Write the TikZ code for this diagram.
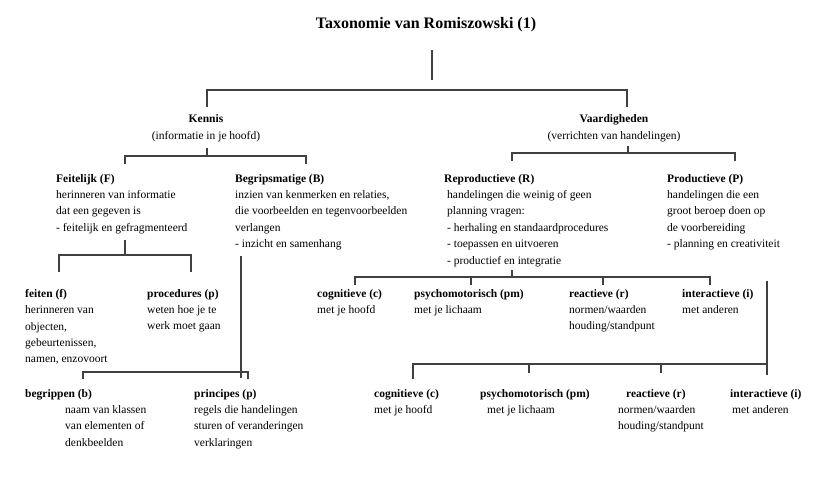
\documentclass[tikz,border=0pt]{standalone}
\usepackage{fontspec}
\setmainfont{Liberation Serif}
\tikzset{
  txt/.style={anchor=north west, align=left, inner sep=0pt, font=\fontsize{11.5}{16.4}\selectfont},
  head/.style={anchor=north, align=center, inner sep=0pt, font=\fontsize{11.5}{17}\selectfont},
  bus/.style={line width=1.1pt, black!75}
}
\begin{document}
\begin{tikzpicture}[x=1pt,y=-1pt]
\useasboundingbox (0,0) rectangle (823,484);
\node[inner sep=0pt, font=\fontsize{16}{19}\selectfont\bfseries] (title) at (426,25) {Taxonomie van Romiszowski (1)};
\node[head] (kennis) at (206,114) {\textbf{Kennis}\\(informatie in je hoofd)};
\node[head] (vaard) at (614,114) {\textbf{Vaardigheden}\\(verrichten van handelingen)};

\node[txt] (feit) at (56,174) {\textbf{Feitelijk (F)}\\herinneren van informatie\\dat een gegeven is\\- feitelijk en gefragmenteerd};
\node[txt] (begr) at (235,174) {\textbf{Begripsmatige (B)}\\inzien van kenmerken en relaties,\\die voorbeelden en tegenvoorbeelden\\verlangen\\- inzicht en samenhang};
\node[txt] (repro) at (444,174) {\textbf{Reproductieve (R)}\\\hspace*{3pt}handelingen die weinig of geen\\\hspace*{3pt}planning vragen:\\\hspace*{3pt}- herhaling en standaardprocedures\\\hspace*{3pt}- toepassen en uitvoeren\\\hspace*{3pt}- productief en integratie};
\node[txt] (prod) at (667,174) {\textbf{Productieve (P)}\\handelingen die een\\groot beroep doen op\\de voorbereiding\\- planning en creativiteit};

\node[txt] (feiten) at (25,289) {\textbf{feiten (f)}\\herinneren van\\objecten,\\gebeurtenissen,\\namen, enzovoort};
\node[txt] (proc) at (147,289) {\textbf{procedures (p)}\\weten hoe je te\\werk moet gaan};
\node[txt] (cog1) at (317,289) {\textbf{cognitieve (c)}\\met je hoofd};
\node[txt] (psy1) at (414,289) {\textbf{psychomotorisch (pm)}\\met je lichaam};
\node[txt] (rea1) at (569,289) {\textbf{reactieve (r)}\\normen/waarden\\houding/standpunt};
\node[txt] (inter1) at (682,289) {\textbf{interactieve (i)}\\met anderen};

\node[txt] (begrip) at (25,389) {\textbf{begrippen (b)}\\\hspace*{40pt}naam van klassen\\\hspace*{40pt}van elementen of\\\hspace*{40pt}denkbeelden};
\node[txt] (princ) at (194,389) {\textbf{principes (p)}\\regels die handelingen\\sturen of veranderingen\\verklaringen};
\node[txt] (cog2) at (374,389) {\textbf{cognitieve (c)}\\met je hoofd};
\node[txt] (psy2) at (480,389) {\textbf{psychomotorisch (pm)}\\\hspace*{7pt}met je lichaam};
\node[txt] (rea2) at (618,389) {\hspace*{8pt}\textbf{reactieve (r)}\\normen/waarden\\houding/standpunt};
\node[txt] (inter2) at (730,389) {\textbf{interactieve (i)}\\\hspace*{2pt}met anderen};

\coordinate (title-stem) at (432,50);  \coordinate (title-out) at (432,80);
\coordinate (top-bus) at (432,90);
\coordinate (kennis-in) at (207,107);  \coordinate (vaard-in) at (627,107);
\coordinate (kennis-stem) at (207,148); \coordinate (kennis-out) at (207,156);
\coordinate (feit-in) at (125,164);    \coordinate (begr-in) at (306,164);
\coordinate (vaard-stem) at (628,146); \coordinate (vaard-out) at (628,153);
\coordinate (repro-in) at (512,161);   \coordinate (prod-in) at (735,161);
\coordinate (feit-stem) at (125,240);  \coordinate (feit-out) at (125,255);
\coordinate (feiten-in) at (59,272);   \coordinate (proc-in) at (191,272);
\coordinate (begr-stem) at (241,256);  \coordinate (begr-out) at (241,378);
\coordinate (begrip-in) at (83,379);   \coordinate (princ-bus) at (248,372);
\coordinate (princ-in) at (248,379);
\coordinate (repro-stem) at (512,270); \coordinate (repro-out) at (512,277);
\coordinate (cog1-in) at (355,285);    \coordinate (psy1-in) at (471,285);
\coordinate (rea1-in) at (603,285);    \coordinate (inter1-in) at (710,285);
\coordinate (prod-stem) at (767,281);  \coordinate (prod-out) at (767,375);
\coordinate (prod-bus) at (767,364);
\coordinate (cog2-in) at (413,379);    \coordinate (psy2-in) at (529,373);
\coordinate (rea2-in) at (661,373);

\draw[bus] (title-stem) -- (title-out);
\draw[bus] (kennis-in) |- (top-bus) -| (vaard-in);
\draw[bus] (kennis-stem) -- (kennis-out);
\draw[bus] (feit-in) |- (kennis-out) -| (begr-in);
\draw[bus] (vaard-stem) -- (vaard-out);
\draw[bus] (repro-in) |- (vaard-out) -| (prod-in);
\draw[bus] (feit-stem) -- (feit-out);
\draw[bus] (feiten-in) |- (feit-out) -| (proc-in);
\draw[bus] (begr-stem) -- (begr-out);
\draw[bus] (begrip-in) |- (princ-bus) -- (princ-in);
\draw[bus] (repro-stem) -- (repro-out);
\draw[bus] (cog1-in) |- (repro-out) -| (inter1-in);
\foreach \n in {psy1,rea1}
  \draw[bus] (\n-in) -- (\n-in |- repro-out);
\draw[bus] (prod-stem) -- (prod-out);
\draw[bus] (cog2-in) |- (prod-bus);
\foreach \n in {psy2,rea2}
  \draw[bus] (\n-in) -- (\n-in |- prod-bus);
\end{tikzpicture}
\end{document}
